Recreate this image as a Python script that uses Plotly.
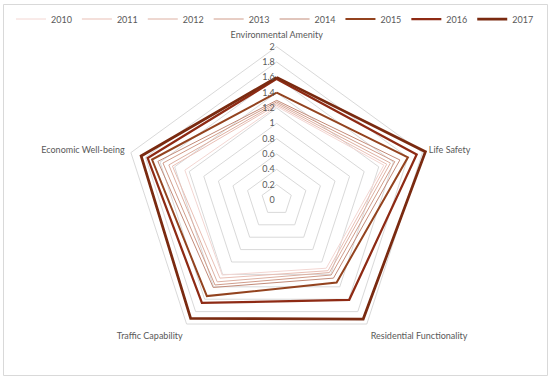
import plotly.graph_objects as go

categories = ["Environmental Amenity", "Life Safety", "Residential Functionality",
              "Traffic Capability", "Economic Well-being"]
years = ["2010", "2011", "2012", "2013", "2014", "2015", "2016", "2017"]

v2010 = [1.22, 1.47, 1.10, 1.21, 1.26]
v2011 = [1.24, 1.51, 1.14, 1.26, 1.43]
v2012 = [1.26, 1.56, 1.17, 1.32, 1.48]
v2013 = [1.28, 1.62, 1.21, 1.37, 1.56]
v2014 = [1.30, 1.69, 1.26, 1.41, 1.63]
v2015 = [1.40, 1.80, 1.33, 1.55, 1.71]
v2016 = [1.58, 1.92, 1.61, 1.66, 1.77]
v2017 = [1.60, 2.04, 1.92, 1.91, 1.86]
series = [v2010, v2011, v2012, v2013, v2014, v2015, v2016, v2017]

tick_vals = [0, 0.2, 0.4, 0.6, 0.8, 1, 1.2, 1.4, 1.6, 1.8, 2]
tick_text = ["0", "0.2", "0.4", "0.6", "0.8", "1", "1.2", "1.4", "1.6", "1.8", "2"]

colors = ["#f3d6d2", "#e9bfb5", "#ddb0a2", "#d09c8a", "#c28b79", "#93431f", "#8e2a14", "#7a2a10"]
widths = [1, 1, 1, 1, 1, 2, 2.25, 2.75]

fig = go.Figure()
for y, vals, c, w in zip(years, series, colors, widths):
    fig.add_trace(go.Scatterpolar(
        r=vals + [vals[0]],
        theta=categories + [categories[0]],
        mode="lines",
        name=y,
        line=dict(color=c, width=w),
    ))

W, H = 550, 380
cx, cy = 276.7, 200.0
rmax = 2.08
R = 153.3 * rmax / 2.0

fig.update_layout(
    width=W, height=H,
    margin=dict(l=0, r=0, t=0, b=0),
    paper_bgcolor="white",
    font=dict(family="Lato, Open Sans, sans-serif", size=9, color="#595959"),
    showlegend=True,
    legend=dict(orientation="h", x=0.5, xanchor="center", y=1 - 19 / H, yanchor="middle",
                font=dict(size=9, color="#595959"), bgcolor="rgba(0,0,0,0)",
                itemwidth=30, tracegroupgap=0),
    polar=dict(
        domain=dict(x=[(cx - R) / W, (cx + R) / W], y=[1 - (cy + R) / H, 1 - (cy - R) / H]),
        gridshape="linear",
        bgcolor="white",
        radialaxis=dict(range=[0, rmax], tickvals=tick_vals, ticktext=tick_text,
                        angle=90, tickangle=90, side="counterclockwise", showline=False,
                        ticks="", gridcolor="#d9d9d9", gridwidth=1,
                        tickfont=dict(size=9, color="#595959")),
        angularaxis=dict(direction="clockwise", rotation=90, showgrid=False,
                         showline=False, ticks="",
                         tickfont=dict(size=9, color="#595959")),
    ),
    shapes=[dict(type="rect", xref="paper", yref="paper",
                 x0=3.5 / W, x1=547.5 / W, y0=1 - 375.5 / H, y1=1 - 4.5 / H,
                 line=dict(color="#d9d9d9", width=1), fillcolor="rgba(0,0,0,0)",
                 layer="below")],
)

fig.write_html("out.html", config={"displayModeBar": False},
               post_script="document.body.style.margin='0';")
